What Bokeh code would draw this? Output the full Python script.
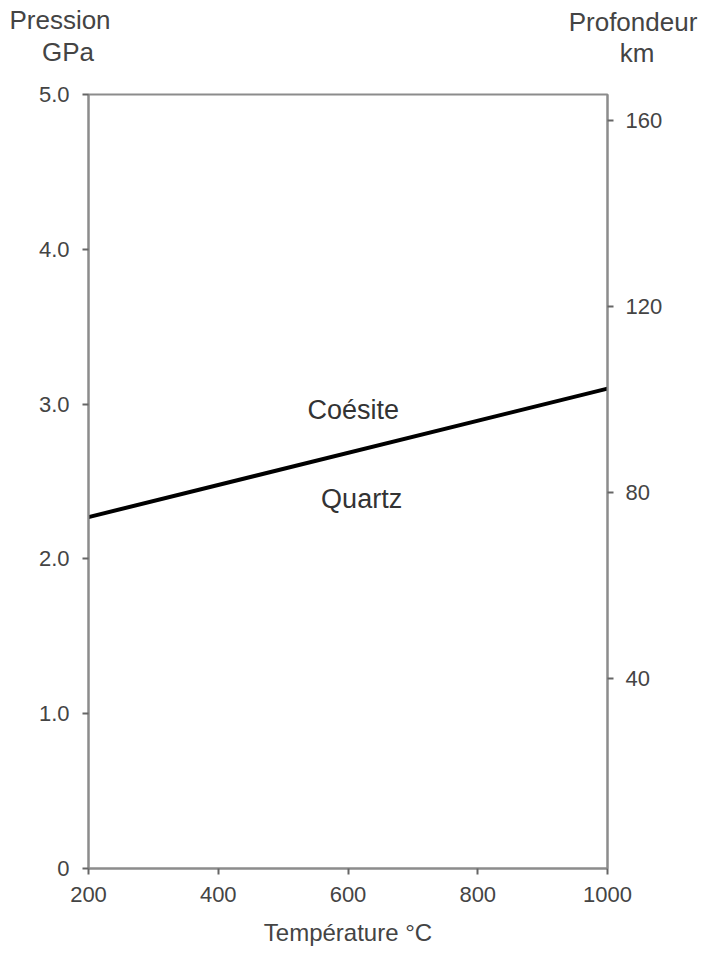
from bokeh.plotting import figure
from bokeh.models import Range1d, LinearAxis, Label, FixedTicker, Div
from bokeh.layouts import column
from bokeh.embed import file_html
from bokeh.resources import INLINE

# data
temperature = [200, 1000]
pressure = [2.27, 3.10]
x_ticks = [200, 400, 600, 800, 1000]
p_ticks = [0, 1, 2, 3, 4, 5]
p_tick_labels = ["0", "1.0", "2.0", "3.0", "4.0", "5.0"]
depth_ticks = [40, 80, 120, 160]
field_names = ["Coésite", "Quartz"]
field_x = [608, 621]
field_p = [2.96, 2.39]
axis_titles = ["Pression", "GPa", "Profondeur", "km"]

FONT = "Liberation Sans"
AXC = "#8c8c8c"
TXT = "#444444"
W = 697
HEAD = 70
H = 952 - HEAD

p = figure(width=W, height=H, output_backend="svg", toolbar_location=None,
           x_range=Range1d(200, 1000), y_range=Range1d(0, 5),
           min_border_left=88, min_border_right=90, min_border_top=94 - HEAD,
           min_border_bottom=84)
p.grid.visible = False
p.outline_line_color = AXC
p.outline_line_width = 2
p.background_fill_color = "white"
p.border_fill_color = "white"

p.extra_y_ranges = {"depth": Range1d(-0.75, 165.6)}
right = LinearAxis(y_range_name="depth", ticker=FixedTicker(ticks=depth_ticks))
p.add_layout(right, "right")

for ax in [p.xaxis[0], p.yaxis[0], right]:
    ax.axis_line_color = AXC
    ax.axis_line_width = 2
    ax.major_tick_line_color = "#666666"
    ax.major_tick_line_width = 2
    ax.major_tick_in = 0
    ax.major_tick_out = 6
    ax.minor_tick_line_color = None
    ax.major_label_text_font = FONT
    ax.major_label_text_font_size = "22px"
    ax.major_label_text_color = TXT
    ax.major_label_standoff = 12

p.xaxis[0].ticker = FixedTicker(ticks=x_ticks)
p.yaxis[0].ticker = FixedTicker(ticks=p_ticks)
p.yaxis[0].major_label_overrides = {t: l for t, l in zip(p_ticks, p_tick_labels)}
p.yaxis[0].major_label_standoff = 13
p.xaxis[0].axis_label = "Température °C"
p.xaxis[0].axis_label_text_font = FONT
p.xaxis[0].axis_label_text_font_size = "24px"
p.xaxis[0].axis_label_text_font_style = "normal"
p.xaxis[0].axis_label_text_color = TXT
p.xaxis[0].axis_label_standoff = 14

p.line(temperature, pressure, line_color="black", line_width=4)

for name, x, y in zip(field_names, field_x, field_p):
    p.add_layout(Label(x=x, y=y, text=name, text_align="center", text_baseline="middle",
                       text_font=FONT, text_font_size="27px", text_color="#333333"))

# header with the two axis titles (centre x, centre y in page pixels)
title_pos = [(60, 20), (68, 52), (633, 22), (637, 53)]
parts = []
for t, (cx, cy) in zip(axis_titles, title_pos):
    parts.append(
        f'<div style="position:absolute;left:{cx - 100}px;top:{cy - 16}px;width:200px;'
        f'height:32px;line-height:32px;text-align:center;white-space:nowrap">{t}</div>')
html = (f'<div style="position:relative;width:{W}px;height:{HEAD}px;'
        f'font-family:\'{FONT}\';font-size:26px;color:{TXT}">' + "".join(parts) + "</div>")
head = Div(text=html, width=W, height=HEAD, margin=0)

layout = column(head, p, spacing=0)
open("out.html", "w").write(file_html(layout, INLINE))
